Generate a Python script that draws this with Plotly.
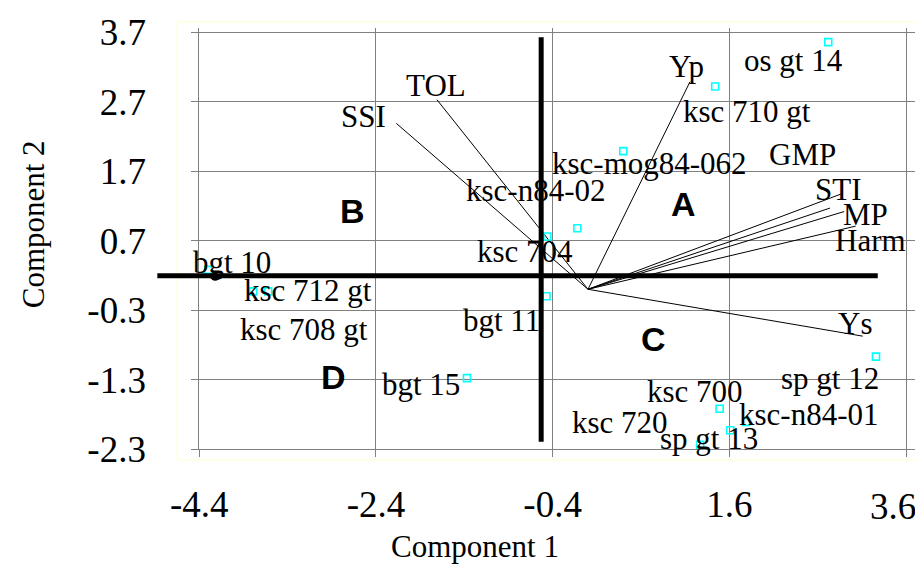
import plotly.graph_objects as go

# ---------------- data ----------------
genotypes = ["os gt 14", "ksc 710 gt", "ksc-mog84-062", "ksc-n84-02", "ksc 704",
             "bgt 11", "bgt 10", "ksc 712 gt", "ksc 708 gt", "bgt 15",
             "sp gt 12", "ksc 700", "ksc-n84-01", "sp gt 13", "ksc 720"]
geno_c1 = [2.72, 1.44, 0.40, -0.12, -0.46, -0.47, -4.30, -3.79, -3.62, -1.37,
           3.26, 1.49, 1.79, 1.61, 1.27]
geno_c2 = [3.56, 2.92, 1.99, 0.88, 0.76, -0.10, 0.28, -0.03, -0.03, -1.28,
           -0.97, -1.72, -1.91, -2.03, -2.24]

variables = ["Yp", "Ys", "TOL", "SSI", "STI", "GMP", "MP", "Harm"]
var_c1 = [1.155, 3.11, -1.71, -2.17, 2.86, 2.74, 2.90, 3.03]
var_c2 = [2.99, -0.675, 2.73, 2.39, 1.37, 1.17, 1.12, 0.91]

quadrants = ["A", "B", "C", "D"]
quad_c1 = [1.08, -2.67, 0.74, -2.88]
quad_c2 = [1.23, 1.13, -0.72, -1.27]

# thick reference axes drawn on the chart
hline_c1 = [-4.875, 3.28]
hline_c2 = [0.195, 0.195]
vline_c1 = [-0.53, -0.53]
vline_c2 = [3.63, -2.197]
dot_c1 = [-4.22]
dot_c2 = [0.18]

x_ticks = [-4.4, -2.4, -0.4, 1.6, 3.6]
y_ticks = [3.7, 2.7, 1.7, 0.7, -0.3, -1.3, -2.3]
x_ticktext = ["-4.4", "-2.4", "-0.4", "1.6", "3.6"]
y_ticktext = ["3.7", "2.7", "1.7", "0.7", "-0.3", "-1.3", "-2.3"]

# label offsets in pixels (dx right, dy down) — styling only
geno_offsets = {
    "os gt 14": (-35, 18), "ksc 710 gt": (32, 25), "ksc-mog84-062": (26, 12),
    "ksc-n84-02": (-42, -38), "ksc 704": (-22, 15), "bgt 11": (-45, 24),
    "bgt 10": (24, -7), "ksc 712 gt": (55, -1), "ksc 708 gt": (36, 38),
    "bgt 15": (-46, 6), "sp gt 12": (-46, 22), "ksc 700": (-25, -17),
    "ksc-n84-01": (62, -7), "sp gt 13": (-21, 8), "ksc 720": (-80, -22),
}
var_offsets = {
    "Yp": (-4, -15), "Ys": (-8, -13), "TOL": (-1, -14), "SSI": (-33, -7),
    "STI": (-2, -5), "GMP": (-28, -54), "MP": (21, 3), "Harm": (15, 14),
}

SERIF = "Liberation Serif, Times New Roman, serif"
GRID = "#808080"
TICK_FONT = dict(family=SERIF, size=37, color="black")

fig = go.Figure()

# vectors from origin
vx, vy = [], []
for a, b in zip(var_c1, var_c2):
    vx += [0, a, None]
    vy += [0, b, None]
fig.add_trace(go.Scatter(x=vx, y=vy, mode="lines",
                         line=dict(color="black", width=1),
                         hoverinfo="skip", showlegend=False))

# genotype points
fig.add_trace(go.Scatter(x=geno_c1, y=geno_c2, mode="markers",
                         marker=dict(symbol="square-open", size=7,
                                     color="#00FFFF", line=dict(width=1.6, color="#00FFFF")),
                         text=genotypes, hoverinfo="text", showlegend=False))

# thick axes (on a wider overlay subplot so they can extend beyond plot)
fig.add_trace(go.Scatter(x=hline_c1, y=hline_c2, mode="lines",
                         line=dict(color="black", width=5),
                         xaxis="x2", yaxis="y2", hoverinfo="skip", showlegend=False))
fig.add_trace(go.Scatter(x=vline_c1, y=vline_c2, mode="lines",
                         line=dict(color="black", width=5),
                         xaxis="x2", yaxis="y2", hoverinfo="skip", showlegend=False))
fig.add_trace(go.Scatter(x=dot_c1, y=dot_c2, mode="markers",
                         marker=dict(symbol="circle", size=8, color="black"),
                         xaxis="x2", yaxis="y2", hoverinfo="skip", showlegend=False))

annotations = []
for name, a, b in zip(genotypes, geno_c1, geno_c2):
    dx, dy = geno_offsets[name]
    annotations.append(dict(x=a, y=b, xref="x", yref="y", text=name, showarrow=False,
                            xanchor="center", yanchor="middle", xshift=dx, yshift=-dy,
                            font=dict(family=SERIF, size=31, color="black")))
for name, a, b in zip(variables, var_c1, var_c2):
    dx, dy = var_offsets[name]
    annotations.append(dict(x=a, y=b, xref="x", yref="y", text=name, showarrow=False,
                            xanchor="center", yanchor="middle", xshift=dx, yshift=-dy,
                            font=dict(family=SERIF, size=31, color="black")))
for name, a, b in zip(quadrants, quad_c1, quad_c2):
    annotations.append(dict(x=a, y=b, xref="x", yref="y", text="<b>" + name + "</b>",
                            showarrow=False, xanchor="center", yanchor="middle",
                            font=dict(family="Liberation Sans, Arial, sans-serif", size=34,
                                      color="black")))
annotations.append(dict(x=0.4226, y=-0.232, xref="paper", yref="paper",
                        text="Component 1", showarrow=False, xanchor="center",
                        yanchor="middle", font=dict(family=SERIF, size=31, color="black")))
annotations.append(dict(x=-0.152, y=0.534, xref="paper", yref="paper",
                        text="Component 2", showarrow=False, xanchor="center",
                        yanchor="middle", textangle=-90,
                        font=dict(family=SERIF, size=31, color="black")))

# the last x tick label sits at the page edge: draw it as text nudged inside
shown_xticktext = x_ticktext[:-1] + [""]
annotations.append(dict(x=x_ticks[-1], y=-0.1375, xref="x", yref="paper",
                        text=x_ticktext[-1], showarrow=False, xanchor="center",
                        yanchor="middle", xshift=-13, font=TICK_FONT))

axis_common = dict(showgrid=True, gridcolor=GRID, gridwidth=1, showline=True,
                   linecolor=GRID, linewidth=1, ticks="outside", ticklen=7,
                   tickcolor=GRID, tickwidth=1, zeroline=False, tickfont=TICK_FONT)

fig.update_layout(
    width=915, height=557,
    margin=dict(l=142, r=4, t=16, b=116, pad=0),
    paper_bgcolor="white", plot_bgcolor="rgba(0,0,0,0)",
    showlegend=False,
    xaxis=dict(domain=[0.0641, 1], range=[-4.4, 3.747], tickmode="array",
               tickvals=x_ticks, ticktext=shown_xticktext, anchor="y",
               ticklabelstandoff=16, **axis_common),
    yaxis=dict(domain=[0, 1], range=[-2.3, 3.763], tickmode="array",
               tickvals=y_ticks, ticktext=y_ticktext, anchor="x",
               ticklabelstandoff=38, **axis_common),
    xaxis2=dict(domain=[0, 1], range=[-4.958, 3.747], visible=False, anchor="y2"),
    yaxis2=dict(domain=[0, 1], range=[-2.3, 3.763], visible=False, anchor="x2"),
    annotations=annotations,
    shapes=[dict(type="rect", xref="paper", yref="paper", x0=0.0351, x1=0.9987,
                 y0=-0.0259, y1=1.014, line=dict(color="#FFFFD0", width=1),
                 fillcolor="rgba(0,0,0,0)", layer="below")],
)

fig.write_html("out.html")
